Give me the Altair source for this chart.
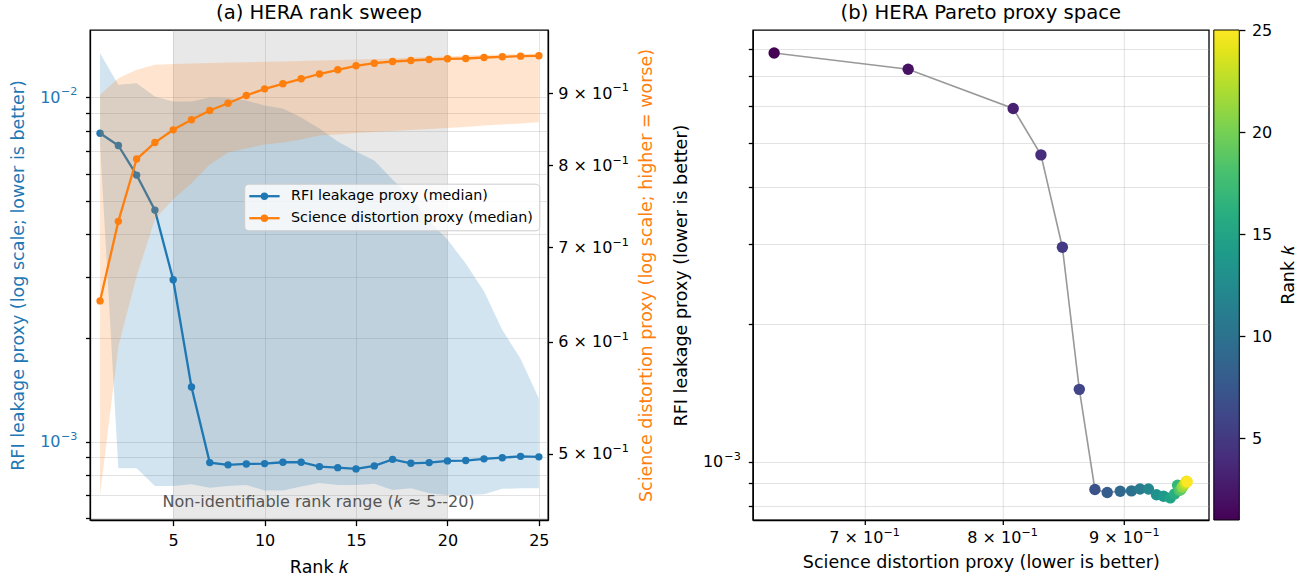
import altair as alt
import pandas as pd

# ---------------- data ----------------
k = list(range(1, 26))
rfi_median = [0.00786, 0.00724, 0.00594, 0.00470, 0.00295, 0.00144, 0.000869, 0.000856,
              0.000861, 0.000863, 0.000871, 0.000871, 0.000846, 0.000840, 0.000833, 0.000850,
              0.000888, 0.000865, 0.000869, 0.000879, 0.000881, 0.000891, 0.000898, 0.000906,
              0.000903]
rfi_lower = [0.00729, 0.000837, 0.000837, 0.000743, 0.000743, 0.000752, 0.000735, 0.000743,
             0.000748, 0.000721, 0.000721, 0.000740, 0.000758, 0.000748, 0.000748, 0.000754,
             0.000724, 0.000732, 0.000708, 0.000700, 0.000700, 0.000703, 0.000729, 0.000732,
             0.000732]
rfi_upper = [0.01342, 0.01086, 0.01098, 0.01005, 0.00972, 0.00972, 0.00998, 0.00995,
             0.00978, 0.00946, 0.00927, 0.00873, 0.00811, 0.00743, 0.00696, 0.00655,
             0.00577, 0.00511, 0.00436, 0.00386, 0.00329, 0.00273, 0.00211, 0.00174,
             0.001333]
sci_median = [0.6415, 0.7303, 0.8084, 0.8304, 0.8478, 0.8618, 0.8749, 0.8854, 0.8966,
              0.9064, 0.9139, 0.9214, 0.9286, 0.9350, 0.9411, 0.9451, 0.9477, 0.9493,
              0.9508, 0.9519, 0.9524, 0.9539, 0.9550, 0.9560, 0.9566]
sci_lower = [0.4679, 0.5956, 0.6677, 0.7327, 0.7570, 0.7770, 0.8013, 0.8171, 0.8225,
             0.8279, 0.8306, 0.8347, 0.8401, 0.8414, 0.8435, 0.8449, 0.8462, 0.8476,
             0.8490, 0.8504, 0.8518, 0.8539, 0.8553, 0.8567, 0.8585]
sci_upper = [0.8977, 0.9223, 0.9350, 0.9426, 0.9439, 0.9447, 0.9454, 0.9462, 0.9467,
             0.9473, 0.9477, 0.9485, 0.9493, 0.9500, 0.9508, 0.9516, 0.9524, 0.9539,
             0.9547, 0.9555, 0.9570, 0.9578, 0.9586, 0.9594, 0.9601]

span_start = [5]
span_end = [20]
annotation_x = [12.95]
annotation_text = ["Non-identifiable rank range (\U0001D458 \u2248 5--20)"]
legend_labels = ["RFI leakage proxy (median)", "Science distortion proxy (median)"]
title_a = "(a) HERA rank sweep"
title_b = "(b) HERA Pareto proxy space"

x_ticks = [5, 10, 15, 20, 25]
left_ticks = [6e-4, 7e-4, 8e-4, 9e-4, 1e-3, 2e-3, 3e-3, 4e-3, 5e-3, 6e-3, 7e-3, 8e-3, 9e-3, 1e-2]
left_major = [1e-2, 1e-3]
left_major_exp = ["\u22122", "\u22123"]
right_ticks = [0.5, 0.6, 0.7, 0.8, 0.9]
right_exp = ["\u22121"] * 5
pareto_x_ticks = [0.7, 0.8, 0.9]
pareto_x_exp = ["\u22121"] * 3
pareto_y_ticks = [8e-4, 9e-4, 1e-3, 2e-3, 3e-3, 4e-3, 5e-3, 6e-3, 7e-3, 8e-3]
pareto_y_major = [1e-3]
pareto_y_exp = ["\u22123"]
cbar_ticks = [5, 10, 15, 20, 25]
cbar_range = [1, 25]

BLUE = "#1f77b4"
ORANGE = "#ff7f0e"
FONT = "DejaVu Sans"
TICK_FS = 16
EXP_FS = 11.2
TITLE_FS = 17.5

df = pd.DataFrame({
    "k": k,
    "rfi_median": rfi_median, "rfi_lower": rfi_lower, "rfi_upper": rfi_upper,
    "sci_median": sci_median, "sci_lower": sci_lower, "sci_upper": sci_upper,
})
span_df = pd.DataFrame({"x0": span_start, "x1": span_end})
annot_df = pd.DataFrame({"x": annotation_x, "label": annotation_text})
cbar_df = pd.DataFrame({"tick": cbar_ticks})
lmaj_df = pd.DataFrame({"v": left_major, "e": left_major_exp})
rtick_df = pd.DataFrame({"v": right_ticks, "e": right_exp})
pxe_df = pd.DataFrame({"v": pareto_x_ticks, "e": pareto_x_exp})
pye_df = pd.DataFrame({"v": pareto_y_major, "e": pareto_y_exp})
one = pd.DataFrame({"a": [0]})

LW, LH = 458, 490   # left plot area
RW, RH = 456, 490   # right plot area

# ---------------- left panel ----------------
xscale = alt.Scale(domain=[0.45, 25.5], nice=False, zero=False)
xaxis = alt.Axis(values=x_ticks, grid=True, tickSize=5.6, labelPadding=7, titlePadding=10,
                 labelFlush=False, format="d")
XTITLE = "Rank \U0001D458"

blue_scale = alt.Scale(type="log", domain=[0.000592, 0.01567], nice=False)
blue_axis = alt.Axis(values=left_ticks, grid=True, tickSize=4.5, labelPadding=25.5,
                     labelColor=BLUE, titleColor=BLUE, labelOverlap=False,
                     labelExpr="abs(log(datum.value)/LN10 - round(log(datum.value)/LN10)) < 0.01"
                               " ? '10' : ''",
                     titleX=-71.5, titleY=LH / 2, titleAngle=270, titleBaseline="middle",
                     titleAlign="center")
BTITLE = "RFI leakage proxy (log scale; lower is better)"

orange_scale = alt.Scale(type="log", domain=[0.44884, 0.99766], nice=False)
orange_axis = alt.Axis(values=right_ticks, grid=False, orient="right", tickSize=4.5,
                       labelPadding=5.3, titleColor=ORANGE, labelOverlap=False,
                       labelExpr="format(datum.value*10, '.0f') + ' \u00d7 10'",
                       titleX=98.2, titleY=LH / 2, titleAngle=270, titleBaseline="middle",
                       titleAlign="center")
OTITLE = "Science distortion proxy (log scale; higher = worse)"

span = alt.Chart(span_df).mark_rect(color="#808080", opacity=0.18).encode(
    x=alt.X("x0:Q", scale=xscale, axis=xaxis, title=XTITLE),
    x2="x1:Q",
    y=alt.value(0), y2=alt.value(LH),
)
annot = alt.Chart(annot_df).mark_text(fontSize=16, color="#555555", font=FONT,
                                      align="center", baseline="middle").encode(
    x=alt.X("x:Q", scale=xscale, axis=xaxis, title=XTITLE),
    y=alt.value(471.5),
    text="label:N",
)
blue_band = alt.Chart(df).mark_area(color=BLUE, opacity=0.2).encode(
    x=alt.X("k:Q", scale=xscale, axis=xaxis, title=XTITLE),
    y=alt.Y("rfi_lower:Q", scale=blue_scale, axis=blue_axis, title=BTITLE),
    y2="rfi_upper:Q",
)
blue_line = alt.Chart(df).mark_line(color=BLUE, strokeWidth=2.3).encode(
    x=alt.X("k:Q", scale=xscale, axis=xaxis, title=XTITLE),
    y=alt.Y("rfi_median:Q", scale=blue_scale, axis=blue_axis, title=BTITLE),
)
blue_pts = alt.Chart(df).mark_circle(color=BLUE, size=55, opacity=1).encode(
    x=alt.X("k:Q", scale=xscale, axis=xaxis, title=XTITLE),
    y=alt.Y("rfi_median:Q", scale=blue_scale, axis=blue_axis, title=BTITLE),
)
blue_exp = alt.Chart(lmaj_df).mark_text(fontSize=EXP_FS, font=FONT, color=BLUE, align="right",
                                        baseline="alphabetic", dy=-1.7).encode(
    x=alt.value(-12.5),
    y=alt.Y("v:Q", scale=blue_scale, axis=blue_axis, title=BTITLE),
    text="e:N",
)
blue_group = alt.layer(span, annot, blue_band, blue_line, blue_pts, blue_exp)

orange_band = alt.Chart(df).mark_area(color=ORANGE, opacity=0.2).encode(
    x=alt.X("k:Q", scale=xscale, axis=xaxis, title=XTITLE),
    y=alt.Y("sci_lower:Q", scale=orange_scale, axis=orange_axis, title=OTITLE),
    y2="sci_upper:Q",
)
orange_line = alt.Chart(df).mark_line(color=ORANGE, strokeWidth=2.3).encode(
    x=alt.X("k:Q", scale=xscale, axis=xaxis, title=XTITLE),
    y=alt.Y("sci_median:Q", scale=orange_scale, axis=orange_axis, title=OTITLE),
)
orange_pts = alt.Chart(df).mark_circle(color=ORANGE, size=55, opacity=1).encode(
    x=alt.X("k:Q", scale=xscale, axis=xaxis, title=XTITLE),
    y=alt.Y("sci_median:Q", scale=orange_scale, axis=orange_axis, title=OTITLE),
)
orange_exp = alt.Chart(rtick_df).mark_text(fontSize=EXP_FS, font=FONT, color="black",
                                           align="left", baseline="alphabetic",
                                           dy=-1.7).encode(
    x=alt.value(LW + 64.5),
    y=alt.Y("v:Q", scale=orange_scale, axis=orange_axis, title=OTITLE),
    text="e:N",
)
orange_group = alt.layer(orange_band, orange_line, orange_pts, orange_exp)

# manual legend box and panel title
leg_box = alt.Chart(one).mark_rect(fill="white", fillOpacity=0.8, stroke="#cccccc",
                                   strokeWidth=1, cornerRadius=4).encode(
    x=alt.value(154.7), x2=alt.value(449.8), y=alt.value(154.2), y2=alt.value(200.8))
leg_layers = [leg_box]
for lab, col, yy in zip(legend_labels, [BLUE, ORANGE], [166.2, 188.2]):
    leg_layers.append(alt.Chart(one).mark_rule(color=col, strokeWidth=2.3).encode(
        x=alt.value(159.3), x2=alt.value(189.6), y=alt.value(yy)))
    leg_layers.append(alt.Chart(one).mark_circle(color=col, size=55, opacity=1).encode(
        x=alt.value(174.4), y=alt.value(yy)))
    leg_layers.append(alt.Chart(one).mark_text(fontSize=14.3, font=FONT, color="black",
                                               align="left", baseline="middle").encode(
        x=alt.value(201), y=alt.value(yy), text=alt.value(lab)))
leg_layers.append(alt.Chart(one).mark_text(fontSize=19.6, font=FONT, color="black",
                                           align="center", baseline="middle").encode(
    x=alt.value(LW / 2), y=alt.value(-16.8), text=alt.value(title_a)))
legend_group = alt.layer(*leg_layers)

left = alt.layer(blue_group, orange_group, legend_group).resolve_scale(
    y="independent").properties(width=LW, height=LH)

# ---------------- right panel ----------------
px_scale = alt.Scale(type="log", domain=[0.6284, 0.9768], nice=False)
py_scale = alt.Scale(type="log", domain=[0.000745, 0.008825], nice=False)
px_axis = alt.Axis(values=pareto_x_ticks, grid=True, tickSize=4.5, labelPadding=5,
                   labelOverlap=False, labelFlush=False, titlePadding=8, labelOffset=-8.5,
                   labelExpr="format(datum.value*10, '.0f') + ' \u00d7 10'")
py_axis = alt.Axis(values=pareto_y_ticks, grid=True, tickSize=4.5, labelPadding=25.5,
                   labelOverlap=False,
                   labelExpr="abs(log(datum.value)/LN10 + 3) < 0.01 ? '10' : ''",
                   titleX=-71.5, titleY=RH / 2, titleAngle=270, titleBaseline="middle",
                   titleAlign="center")
PXT = "Science distortion proxy (lower is better)"
PYT = "RFI leakage proxy (lower is better)"

p_line = alt.Chart(df).mark_line(color="#999999", strokeWidth=1.6).encode(
    x=alt.X("sci_median:Q", scale=px_scale, axis=px_axis, title=PXT),
    y=alt.Y("rfi_median:Q", scale=py_scale, axis=py_axis, title=PYT),
    order="k:Q",
)
p_pts = alt.Chart(df).mark_circle(size=130, opacity=1).encode(
    x=alt.X("sci_median:Q", scale=px_scale, axis=px_axis, title=PXT),
    y=alt.Y("rfi_median:Q", scale=py_scale, axis=py_axis, title=PYT),
    color=alt.Color("k:Q", scale=alt.Scale(scheme="viridis", domain=cbar_range),
                    legend=alt.Legend(orient="none", legendX=RW + 5, legendY=0,
                                      direction="vertical", gradientLength=RH,
                                      gradientThickness=25.5, title=None, values=cbar_ticks,
                                      labelOpacity=0, labelFontSize=1,
                                      gradientStrokeColor="black", gradientStrokeWidth=1)),
)
px_exp = alt.Chart(pxe_df).mark_text(fontSize=EXP_FS, font=FONT, color="black", align="left",
                                     baseline="alphabetic", dx=19.1).encode(
    x=alt.X("v:Q", scale=px_scale, axis=px_axis, title=PXT),
    y=alt.value(RH + 15.8),
    text="e:N",
)
py_exp = alt.Chart(pye_df).mark_text(fontSize=EXP_FS, font=FONT, color="black", align="right",
                                     baseline="alphabetic", dy=-1.7).encode(
    x=alt.value(-12),
    y=alt.Y("v:Q", scale=py_scale, axis=py_axis, title=PYT),
    text="e:N",
)
pareto = alt.layer(p_line, p_pts, px_exp, py_exp)

# colour-bar ticks and labels, driven by a k scale that spans the bar
cbar_axis = alt.Chart(cbar_df).mark_point(opacity=0).encode(
    x=alt.value(RW + 30),
    y=alt.Y("tick:Q", scale=alt.Scale(domain=cbar_range, nice=False, zero=False),
            axis=alt.Axis(orient="right", offset=30.5, values=cbar_ticks, domain=False,
                          grid=False, tickSize=5.6, labelPadding=6.5, title=None,
                          labelFlush=False, labelOverlap=False, format="d")),
)
cbar_title = alt.Chart(one).mark_text(fontSize=TITLE_FS, font=FONT, color="black", angle=270,
                                      align="center", baseline="middle").encode(
    x=alt.value(RW + 80), y=alt.value(RH / 2), text=alt.value("Rank \U0001D458"))
title_b_mark = alt.Chart(one).mark_text(fontSize=19.6, font=FONT, color="black",
                                        align="center", baseline="middle").encode(
    x=alt.value(RW / 2), y=alt.value(-16.8), text=alt.value(title_b))

right = alt.layer(pareto, cbar_axis, cbar_title, title_b_mark).resolve_scale(
    y="independent").properties(width=RW, height=RH)

chart = alt.hconcat(left, right, spacing=14.8).resolve_legend(color="independent").properties(
    padding={"left": 8, "top": 2, "right": 2, "bottom": 2}
).configure(font=FONT).configure_view(
    stroke="black", strokeWidth=1.3
).configure_axis(
    domainColor="black", domainWidth=1.3, tickColor="black", tickWidth=1.3,
    labelFontSize=TICK_FS, titleFontSize=TITLE_FS, labelColor="black", titleColor="black",
    titleFontWeight="normal", labelFont=FONT, titleFont=FONT,
    gridColor="#b0b0b0", gridOpacity=0.35, gridWidth=1,
)

chart.save("out.html", embed_options={"renderer": "svg", "actions": False})
